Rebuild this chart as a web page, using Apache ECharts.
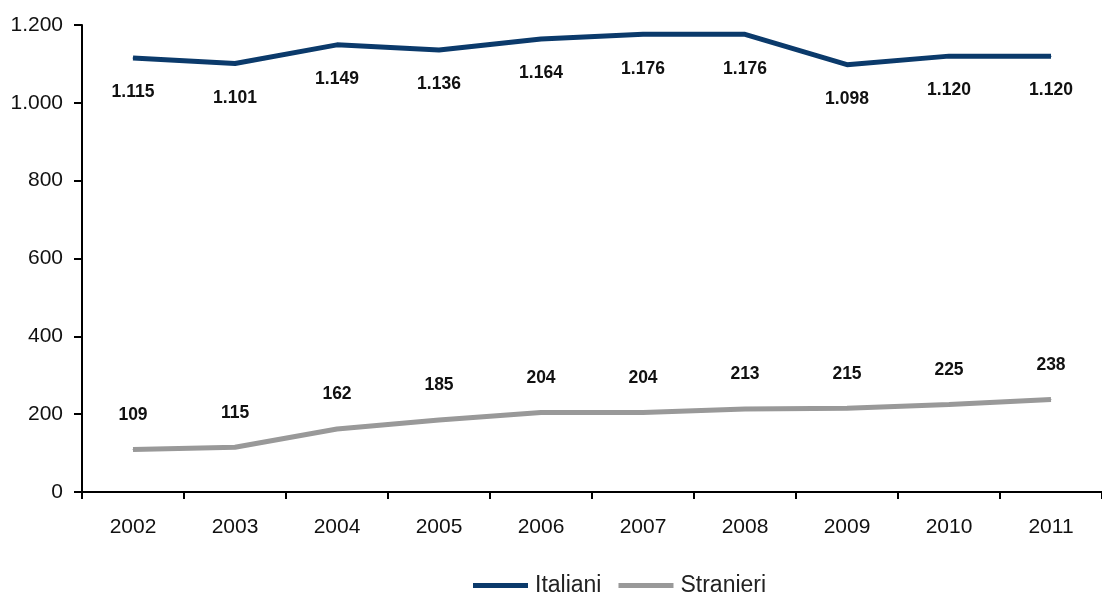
<!DOCTYPE html>
<html>
<head>
<meta charset="utf-8">
<script src="https://cdn.jsdelivr.net/npm/echarts@6/dist/echarts.min.js"></script>
<style>
  html, body { margin: 0; padding: 0; background: #fff; }
  #chart { width: 1102px; height: 595px; }
</style>
</head>
<body>
<div id="chart"></div>
<script>
// Anni e valori per le due serie
const anni = ['2002', '2003', '2004', '2005', '2006', '2007', '2008', '2009', '2010', '2011'];
const italiani = [1115, 1101, 1149, 1136, 1164, 1176, 1176, 1098, 1120, 1120];
const stranieri = [109, 115, 162, 185, 204, 204, 213, 215, 225, 238];
const nomiSerie = ['Italiani', 'Stranieri'];

// Separatore delle migliaia con il punto
function fmt(v) {
  return String(v).replace(/\B(?=(\d{3})+(?!\d))/g, '.');
}

const chart = echarts.init(document.getElementById('chart'));
const FONT = '"Liberation Sans", Arial, sans-serif';

function etichetta(pos) {
  return {
    show: true,
    position: pos,
    distance: 25,
    fontSize: 17.5,
    fontWeight: 'bold',
    color: '#111',
    fontFamily: FONT,
    formatter: p => fmt(p.value)
  };
}

chart.setOption({
  animation: false,
  textStyle: { fontFamily: FONT },
  grid: { left: 82, right: -5, top: 25, bottom: 103, containLabel: false },
  legend: {
    top: 569,
    left: 468,
    itemWidth: 55,
    itemHeight: 5,
    itemGap: 17,
    icon: 'rect',
    textStyle: { fontSize: 23, color: '#222', fontFamily: FONT, padding: [0, 0, 0, 2] },
    data: nomiSerie
  },
  xAxis: {
    type: 'category',
    data: anni,
    boundaryGap: true,
    axisLine: { lineStyle: { color: '#000', width: 2 } },
    axisTick: { show: true, length: 7, lineStyle: { color: '#000', width: 2 } },
    axisLabel: { fontSize: 21, color: '#111', margin: 25, fontFamily: FONT },
    splitLine: { show: false }
  },
  yAxis: {
    type: 'value',
    min: 0,
    max: 1200,
    interval: 200,
    axisLine: { show: true, lineStyle: { color: '#000', width: 2 } },
    axisTick: { show: true, length: 8, lineStyle: { color: '#000', width: 2 } },
    axisLabel: { fontSize: 21, color: '#111', margin: 19, fontFamily: FONT, formatter: fmt },
    splitLine: { show: false }
  },
  series: [
    {
      name: nomiSerie[0],
      type: 'line',
      data: italiani,
      symbol: 'circle',
      symbolSize: 1,
      showSymbol: true,
      color: '#0b3a6b',
      lineStyle: { width: 5, color: '#0b3a6b' },
      label: etichetta('bottom')
    },
    {
      name: nomiSerie[1],
      type: 'line',
      data: stranieri,
      symbol: 'circle',
      symbolSize: 1,
      showSymbol: true,
      color: '#999999',
      lineStyle: { width: 5, color: '#999999' },
      label: etichetta('top')
    }
  ]
});
</script>
</body>
</html>
